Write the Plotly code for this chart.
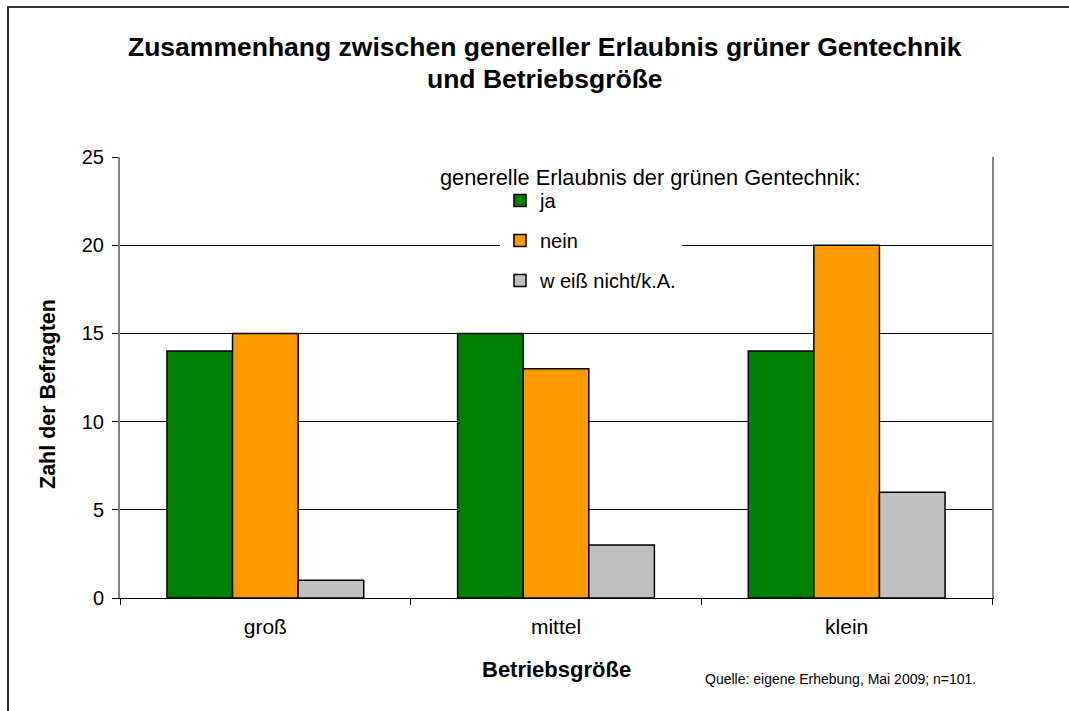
import plotly.graph_objects as go

# Betriebsgröße categories and answer counts per group
categories = ["groß", "mittel", "klein"]
ja = [14, 15, 14]
nein = [15, 13, 20]
weiss_nicht = [1, 3, 6]

series = [
    ("ja", ja, "#008000"),
    ("nein", nein, "#FF9900"),
    ("w eiß nicht/k.A.", weiss_nicht, "#C0C0C0"),
]

FONT = "Liberation Sans, Arial, sans-serif"

fig = go.Figure()
for i, (name, vals, color) in enumerate(series):
    fig.add_trace(go.Bar(
        x=categories, y=vals, name=name,
        legendgroup=f"g{i}",
        marker=dict(color=color, line=dict(color="black", width=1.5)),
    ))

W, H = 1069, 711
L, R, T, B = 120, 77, 157, 113
pw, ph = W - L - R, H - T - B


def px_x(x):
    return (x - L) / pw


def px_y(y):
    return 1 - (y - T) / ph


fig.update_layout(
    width=W, height=H,
    margin=dict(l=L, r=R, t=T, b=B),
    paper_bgcolor="white", plot_bgcolor="white",
    font=dict(family=FONT, color="black"),
    barmode="group", bargap=0.323, bargroupgap=0,
    showlegend=True,
    legend=dict(
        x=px_x(500), y=px_y(181),
        xanchor="left", yanchor="top",
        bgcolor="white", borderwidth=0,
        font=dict(size=20, family=FONT),
        tracegroupgap=11,
        traceorder="grouped",
    ),
    xaxis=dict(
        showline=True, linecolor="black", linewidth=1,
        ticks="outside", ticklen=6, tickcolor="black", tickson="boundaries",
        tickfont=dict(size=21, family=FONT),
        ticklabelstandoff=10,
        showgrid=False,
    ),
    yaxis=dict(
        range=[0, 25], dtick=5,
        showline=True, linecolor="#808080", linewidth=2, mirror=True,
        ticks="outside", ticklen=6, tickcolor="black",
        tickfont=dict(size=20, family=FONT),
        ticklabelstandoff=4,
        showgrid=True, gridcolor="black", gridwidth=1,
        zeroline=False,
    ),
)

# text blocks, placed by pixel position on the page
texts = [
    ("<b>Zusammenhang zwischen genereller Erlaubnis grüner Gentechnik</b>", 545, 47, 26.5, 0),
    ("<b>und Betriebsgröße</b>", 545, 79, 26.5, 0),
    ("<b>Zahl der Befragten</b>", 48, 394, 21.5, -90),
    ("<b>Betriebsgröße</b>", 556, 669, 22, 0),
    ("Quelle: eigene Erhebung, Mai 2009; n=101.", 840, 679, 14, 0),
    ("generelle Erlaubnis der grünen Gentechnik:", 650, 177, 21.8, 0),
]
for text, x, y, size, angle in texts:
    fig.add_annotation(
        text=text, x=px_x(x), y=px_y(y), xref="paper", yref="paper",
        xanchor="center", yanchor="middle", showarrow=False, textangle=angle,
        font=dict(size=size, family=FONT),
    )

# outer chart frame (top and left edges visible)
fig.add_shape(type="rect", xref="paper", yref="paper",
              x0=px_x(8), x1=px_x(W + 20),
              y0=px_y(H + 20), y1=px_y(7),
              line=dict(color="#333333", width=2), layer="below")

fig.write_html("out.html")
